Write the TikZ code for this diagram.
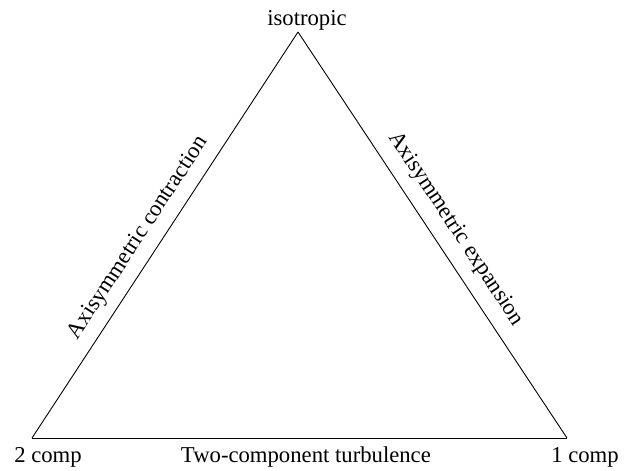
\documentclass[tikz,border=0pt]{standalone}
\usepackage{fontspec}
\setmainfont{Liberation Serif}
\begin{document}
\begin{tikzpicture}[x=1pt, y=-1pt, line width=0.9pt, font=\fontsize{22.7}{27}\selectfont,corner node/.style={inner sep=0pt,anchor=base},side label/.style={sloped,inner sep=0pt}]
\useasboundingbox (0,0) rectangle (632,471);
\coordinate (iso) at (298,32);
\coordinate (two) at (32,438);
\coordinate (one) at (567,438);
\begin{scope}[every node/.style={corner node}]
\node (liso) at (307,25) {isotropic};
\node (ltwo) at (48,462) {2 comp};
\node (lone) at (585,462) {1 comp};
\end{scope}
%\begin{scope}[every edge/.style={draw=black,thin}]
\draw (two) edge node[side label,pos=0.465,above=10pt]{Axisymmetric contraction} (iso);
\draw (iso) edge node[side label,pos=0.516,above=12pt]{Axisymmetric expansion} (one);
\draw (two) edge node[pos=0.512,below=8pt,inner sep=0pt]{Two-component turbulence} (one);
%\end{scope}
\end{tikzpicture}
\end{document}
